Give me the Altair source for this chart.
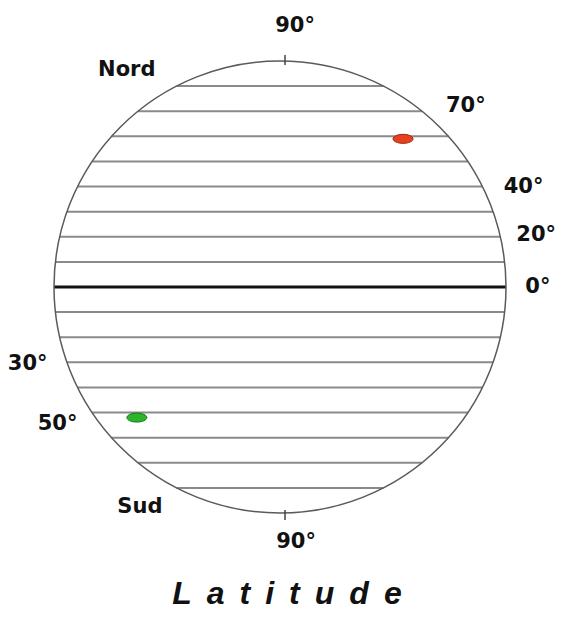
import altair as alt
import pandas as pd
import numpy as np

# ---- data ----
grid_lats = [80, 70, 60, 50, 40, 30, 20, 10, -10, -20, -30, -40, -50, -60, -70, -80]
equator_lat = [0]

dot_names = ["rouge", "vert"]
dot_lat = [59, -52]
dot_x = [49, -57]
dot_fill = ["#e4421e", "#2cb52c"]
dot_stroke = ["#a8260e", "#137a13"]

label_text = ["90°", "Nord", "70°", "40°", "20°", "0°", "30°", "50°", "Sud", "90°"]
label_x = [6, -61, 74, 97, 102.0, 102.7, -100.5, -88.6, -55.8, 6.4]
label_y = [103.9, 86.4, 71.9, 40, 20.7, 0, -30.5, -54.4, -87.6, -101.7]

title_word = "Latitude"

# ---- geometry / layout ----
W, H = 547, 603
CX, CY = 272, 279          # circle centre in plot pixels
R = 226                    # circle radius in pixels (= 90 units)
k = R / 90.0
xs = alt.Scale(domain=[(0 - CX) / k, (W - CX) / k], nice=False, zero=False)
ys = alt.Scale(domain=[(CY - H) / k, CY / k], nice=False, zero=False)

def X(f):
    return alt.X(f"{f}:Q", scale=xs, axis=None)

def Y(f):
    return alt.Y(f"{f}:Q", scale=ys, axis=None)

half = lambda lat: 90 * np.sqrt(1 - (np.array(lat) / 90.0) ** 2)

grid_df = pd.DataFrame({"lat": grid_lats, "x1": -half(grid_lats), "x2": half(grid_lats)})
eq_df = pd.DataFrame({"lat": equator_lat, "x1": -half(equator_lat), "x2": half(equator_lat)})

grid = alt.Chart(grid_df).mark_rule(color="#8a8a8a", strokeWidth=2).encode(
    x=X("x1"), x2="x2", y=Y("lat"))
equator = alt.Chart(eq_df).mark_rule(color="#111111", strokeWidth=3).encode(
    x=X("x1"), x2="x2", y=Y("lat"))

circle = alt.Chart(pd.DataFrame({"cx": [0], "cy": [0]})).mark_point(
    shape="circle", size=(2 * R) ** 2, filled=False, stroke="#5a5a5a",
    strokeWidth=1.5, opacity=1).encode(x=X("cx"), y=Y("cy"))

tick_df = pd.DataFrame({"tx": [2, 2], "t1": [88.4, -88.8], "t2": [92.4, -92.8]})
ticks = alt.Chart(tick_df).mark_rule(color="#444444", strokeWidth=1.5).encode(
    x=X("tx"), y=Y("t1"), y2="t2")

dots_df = pd.DataFrame({"name": dot_names, "lat": dot_lat, "x": dot_x,
                        "fill": dot_fill, "stroke": dot_stroke})
ellipse = "M -1 0 A 1 0.45 0 1 0 1 0 A 1 0.45 0 1 0 -1 0 Z"
dots = alt.Chart(dots_df).mark_point(shape=ellipse, size=400, filled=True,
                                     opacity=1, strokeWidth=1).encode(
    x=X("x"), y=Y("lat"),
    fill=alt.Fill("fill:N", scale=None),
    stroke=alt.Stroke("stroke:N", scale=None))

lab_df = pd.DataFrame({"t": label_text, "lx": label_x, "ly": label_y})
labels = alt.Chart(lab_df).mark_text(font="DejaVu Sans", fontWeight="bold",
                                     fontSize=21, color="#111111",
                                     align="center", baseline="middle").encode(
    x=X("lx"), y=Y("ly"), text="t:N")

# letter-spaced italic title
fs = 32
widths = {"L": 0.611, "a": 0.556, "t": 0.333, "i": 0.278, "u": 0.611, "d": 0.611, "e": 0.556}
spacing = 15
letters = list(title_word)
centres = [182.0 - 8]
for i in range(1, len(letters)):
    centres.append(centres[-1] + (widths[letters[i - 1]] + widths[letters[i]]) * fs / 2 + spacing)
title_df = pd.DataFrame({
    "ch": letters,
    "order": list(range(len(letters))),
    "px": [(c - CX) / k for c in centres],
    "py": [(CY - (604 - 8)) / k] * len(letters),
})
title = alt.Chart(title_df).mark_text(font="Liberation Sans", fontStyle="italic",
                                      fontWeight="bold", fontSize=fs, color="#111111",
                                      align="center", baseline="alphabetic").encode(
    x=X("px"), y=Y("py"), text="ch:N", detail="order:O")

chart = alt.layer(grid, equator, circle, ticks, dots, labels, title).properties(
    width=W, height=H, padding=0,
    autosize=alt.AutoSizeParams(type="none"),
    background="white",
).configure_view(stroke=None)

chart.save("out.html", embed_options={"renderer": "svg", "actions": False})
